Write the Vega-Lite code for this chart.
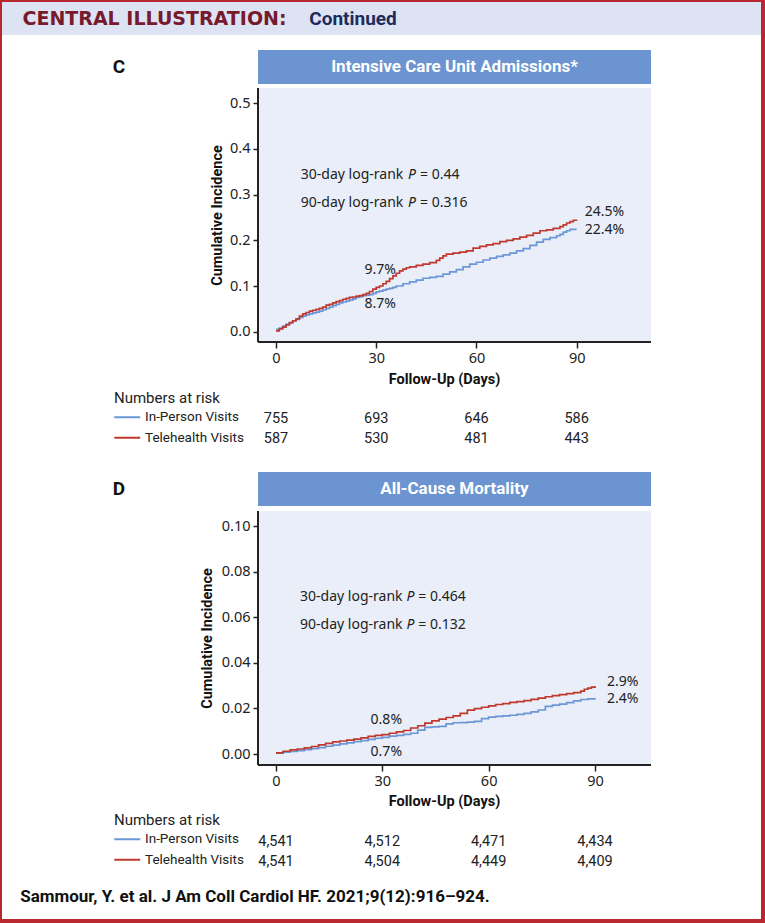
{
  "$schema": "https://vega.github.io/schema/vega-lite/v6.json",
  "background": "#b8282e",
  "padding": {"left": 2, "top": 2, "right": 4, "bottom": 4},
  "spacing": 0,
  "resolve": {"legend": {"color": "independent"}},
  "datasets": {
    "curvesC": [
      {"group": "In-Person Visits", "day": 0, "inc": 0.005}, {"group": "In-Person Visits", "day": 1, "inc": 0.008}, {"group": "In-Person Visits", "day": 2, "inc": 0.012}, {"group": "In-Person Visits", "day": 3, "inc": 0.016}, {"group": "In-Person Visits", "day": 4, "inc": 0.019}, {"group": "In-Person Visits", "day": 5, "inc": 0.023}, {"group": "In-Person Visits", "day": 6, "inc": 0.027}, {"group": "In-Person Visits", "day": 7, "inc": 0.031}, {"group": "In-Person Visits", "day": 8, "inc": 0.034}, {"group": "In-Person Visits", "day": 9, "inc": 0.037}, {"group": "In-Person Visits", "day": 10, "inc": 0.039}, {"group": "In-Person Visits", "day": 11, "inc": 0.041}, {"group": "In-Person Visits", "day": 12, "inc": 0.043}, {"group": "In-Person Visits", "day": 13, "inc": 0.045}, {"group": "In-Person Visits", "day": 14, "inc": 0.048}, {"group": "In-Person Visits", "day": 15, "inc": 0.051}, {"group": "In-Person Visits", "day": 16, "inc": 0.054}, {"group": "In-Person Visits", "day": 17, "inc": 0.057}, {"group": "In-Person Visits", "day": 18, "inc": 0.06}, {"group": "In-Person Visits", "day": 19, "inc": 0.063}, {"group": "In-Person Visits", "day": 20, "inc": 0.065}, {"group": "In-Person Visits", "day": 21, "inc": 0.067}, {"group": "In-Person Visits", "day": 22, "inc": 0.069}, {"group": "In-Person Visits", "day": 23, "inc": 0.072}, {"group": "In-Person Visits", "day": 24, "inc": 0.075}, {"group": "In-Person Visits", "day": 25, "inc": 0.077}, {"group": "In-Person Visits", "day": 26, "inc": 0.079}, {"group": "In-Person Visits", "day": 27, "inc": 0.08}, {"group": "In-Person Visits", "day": 28, "inc": 0.081}, {"group": "In-Person Visits", "day": 29, "inc": 0.084}, {"group": "In-Person Visits", "day": 30, "inc": 0.087}, {"group": "In-Person Visits", "day": 31, "inc": 0.089}, {"group": "In-Person Visits", "day": 32, "inc": 0.091}, {"group": "In-Person Visits", "day": 33, "inc": 0.093}, {"group": "In-Person Visits", "day": 34, "inc": 0.095}, {"group": "In-Person Visits", "day": 35, "inc": 0.097}, {"group": "In-Person Visits", "day": 36, "inc": 0.1}, {"group": "In-Person Visits", "day": 38, "inc": 0.105}, {"group": "In-Person Visits", "day": 40, "inc": 0.109}, {"group": "In-Person Visits", "day": 42, "inc": 0.113}, {"group": "In-Person Visits", "day": 44, "inc": 0.117}, {"group": "In-Person Visits", "day": 46, "inc": 0.119}, {"group": "In-Person Visits", "day": 48, "inc": 0.121}, {"group": "In-Person Visits", "day": 50, "inc": 0.126}, {"group": "In-Person Visits", "day": 52, "inc": 0.131}, {"group": "In-Person Visits", "day": 54, "inc": 0.136}, {"group": "In-Person Visits", "day": 56, "inc": 0.142}, {"group": "In-Person Visits", "day": 58, "inc": 0.148}, {"group": "In-Person Visits", "day": 60, "inc": 0.152}, {"group": "In-Person Visits", "day": 62, "inc": 0.157}, {"group": "In-Person Visits", "day": 64, "inc": 0.161}, {"group": "In-Person Visits", "day": 66, "inc": 0.165}, {"group": "In-Person Visits", "day": 68, "inc": 0.168}, {"group": "In-Person Visits", "day": 70, "inc": 0.172}, {"group": "In-Person Visits", "day": 72, "inc": 0.177}, {"group": "In-Person Visits", "day": 74, "inc": 0.182}, {"group": "In-Person Visits", "day": 76, "inc": 0.189}, {"group": "In-Person Visits", "day": 78, "inc": 0.196}, {"group": "In-Person Visits", "day": 80, "inc": 0.202}, {"group": "In-Person Visits", "day": 82, "inc": 0.206}, {"group": "In-Person Visits", "day": 84, "inc": 0.21}, {"group": "In-Person Visits", "day": 85, "inc": 0.213}, {"group": "In-Person Visits", "day": 86, "inc": 0.218}, {"group": "In-Person Visits", "day": 87, "inc": 0.221}, {"group": "In-Person Visits", "day": 88, "inc": 0.224}, {"group": "In-Person Visits", "day": 90, "inc": 0.224},
      {"group": "Telehealth Visits", "day": 0, "inc": 0.002}, {"group": "Telehealth Visits", "day": 1, "inc": 0.006}, {"group": "Telehealth Visits", "day": 2, "inc": 0.01}, {"group": "Telehealth Visits", "day": 3, "inc": 0.015}, {"group": "Telehealth Visits", "day": 4, "inc": 0.02}, {"group": "Telehealth Visits", "day": 5, "inc": 0.024}, {"group": "Telehealth Visits", "day": 6, "inc": 0.028}, {"group": "Telehealth Visits", "day": 7, "inc": 0.034}, {"group": "Telehealth Visits", "day": 8, "inc": 0.039}, {"group": "Telehealth Visits", "day": 9, "inc": 0.042}, {"group": "Telehealth Visits", "day": 10, "inc": 0.045}, {"group": "Telehealth Visits", "day": 11, "inc": 0.047}, {"group": "Telehealth Visits", "day": 12, "inc": 0.049}, {"group": "Telehealth Visits", "day": 13, "inc": 0.051}, {"group": "Telehealth Visits", "day": 14, "inc": 0.054}, {"group": "Telehealth Visits", "day": 15, "inc": 0.058}, {"group": "Telehealth Visits", "day": 16, "inc": 0.06}, {"group": "Telehealth Visits", "day": 17, "inc": 0.063}, {"group": "Telehealth Visits", "day": 18, "inc": 0.066}, {"group": "Telehealth Visits", "day": 19, "inc": 0.068}, {"group": "Telehealth Visits", "day": 20, "inc": 0.071}, {"group": "Telehealth Visits", "day": 21, "inc": 0.073}, {"group": "Telehealth Visits", "day": 22, "inc": 0.075}, {"group": "Telehealth Visits", "day": 23, "inc": 0.076}, {"group": "Telehealth Visits", "day": 24, "inc": 0.078}, {"group": "Telehealth Visits", "day": 25, "inc": 0.079}, {"group": "Telehealth Visits", "day": 26, "inc": 0.081}, {"group": "Telehealth Visits", "day": 27, "inc": 0.084}, {"group": "Telehealth Visits", "day": 28, "inc": 0.088}, {"group": "Telehealth Visits", "day": 29, "inc": 0.093}, {"group": "Telehealth Visits", "day": 30, "inc": 0.097}, {"group": "Telehealth Visits", "day": 31, "inc": 0.1}, {"group": "Telehealth Visits", "day": 32, "inc": 0.105}, {"group": "Telehealth Visits", "day": 33, "inc": 0.11}, {"group": "Telehealth Visits", "day": 34, "inc": 0.116}, {"group": "Telehealth Visits", "day": 35, "inc": 0.122}, {"group": "Telehealth Visits", "day": 36, "inc": 0.128}, {"group": "Telehealth Visits", "day": 37, "inc": 0.133}, {"group": "Telehealth Visits", "day": 38, "inc": 0.137}, {"group": "Telehealth Visits", "day": 39, "inc": 0.14}, {"group": "Telehealth Visits", "day": 40, "inc": 0.142}, {"group": "Telehealth Visits", "day": 42, "inc": 0.145}, {"group": "Telehealth Visits", "day": 44, "inc": 0.148}, {"group": "Telehealth Visits", "day": 46, "inc": 0.151}, {"group": "Telehealth Visits", "day": 48, "inc": 0.156}, {"group": "Telehealth Visits", "day": 49, "inc": 0.161}, {"group": "Telehealth Visits", "day": 50, "inc": 0.166}, {"group": "Telehealth Visits", "day": 51, "inc": 0.17}, {"group": "Telehealth Visits", "day": 53, "inc": 0.172}, {"group": "Telehealth Visits", "day": 55, "inc": 0.174}, {"group": "Telehealth Visits", "day": 57, "inc": 0.177}, {"group": "Telehealth Visits", "day": 59, "inc": 0.183}, {"group": "Telehealth Visits", "day": 61, "inc": 0.187}, {"group": "Telehealth Visits", "day": 63, "inc": 0.19}, {"group": "Telehealth Visits", "day": 65, "inc": 0.193}, {"group": "Telehealth Visits", "day": 67, "inc": 0.197}, {"group": "Telehealth Visits", "day": 69, "inc": 0.2}, {"group": "Telehealth Visits", "day": 71, "inc": 0.203}, {"group": "Telehealth Visits", "day": 73, "inc": 0.207}, {"group": "Telehealth Visits", "day": 75, "inc": 0.211}, {"group": "Telehealth Visits", "day": 77, "inc": 0.216}, {"group": "Telehealth Visits", "day": 79, "inc": 0.221}, {"group": "Telehealth Visits", "day": 81, "inc": 0.223}, {"group": "Telehealth Visits", "day": 83, "inc": 0.226}, {"group": "Telehealth Visits", "day": 85, "inc": 0.23}, {"group": "Telehealth Visits", "day": 86, "inc": 0.234}, {"group": "Telehealth Visits", "day": 87, "inc": 0.238}, {"group": "Telehealth Visits", "day": 88, "inc": 0.241}, {"group": "Telehealth Visits", "day": 89, "inc": 0.244}, {"group": "Telehealth Visits", "day": 90, "inc": 0.245}
    ],
    "curvesD": [
      {"group": "In-Person Visits", "day": 0, "inc": 0.0004}, {"group": "In-Person Visits", "day": 2, "inc": 0.0008}, {"group": "In-Person Visits", "day": 4, "inc": 0.0011}, {"group": "In-Person Visits", "day": 6, "inc": 0.0015}, {"group": "In-Person Visits", "day": 8, "inc": 0.0019}, {"group": "In-Person Visits", "day": 10, "inc": 0.0024}, {"group": "In-Person Visits", "day": 12, "inc": 0.0028}, {"group": "In-Person Visits", "day": 14, "inc": 0.0034}, {"group": "In-Person Visits", "day": 16, "inc": 0.0039}, {"group": "In-Person Visits", "day": 18, "inc": 0.0044}, {"group": "In-Person Visits", "day": 20, "inc": 0.0049}, {"group": "In-Person Visits", "day": 22, "inc": 0.0054}, {"group": "In-Person Visits", "day": 24, "inc": 0.0059}, {"group": "In-Person Visits", "day": 26, "inc": 0.0064}, {"group": "In-Person Visits", "day": 28, "inc": 0.0069}, {"group": "In-Person Visits", "day": 30, "inc": 0.0073}, {"group": "In-Person Visits", "day": 32, "inc": 0.0078}, {"group": "In-Person Visits", "day": 34, "inc": 0.0082}, {"group": "In-Person Visits", "day": 36, "inc": 0.0086}, {"group": "In-Person Visits", "day": 38, "inc": 0.0091}, {"group": "In-Person Visits", "day": 40, "inc": 0.0105}, {"group": "In-Person Visits", "day": 42, "inc": 0.0117}, {"group": "In-Person Visits", "day": 44, "inc": 0.0119}, {"group": "In-Person Visits", "day": 46, "inc": 0.0121}, {"group": "In-Person Visits", "day": 48, "inc": 0.0132}, {"group": "In-Person Visits", "day": 50, "inc": 0.0137}, {"group": "In-Person Visits", "day": 52, "inc": 0.0138}, {"group": "In-Person Visits", "day": 54, "inc": 0.014}, {"group": "In-Person Visits", "day": 56, "inc": 0.0143}, {"group": "In-Person Visits", "day": 58, "inc": 0.0155}, {"group": "In-Person Visits", "day": 60, "inc": 0.0162}, {"group": "In-Person Visits", "day": 62, "inc": 0.0165}, {"group": "In-Person Visits", "day": 64, "inc": 0.0167}, {"group": "In-Person Visits", "day": 66, "inc": 0.017}, {"group": "In-Person Visits", "day": 68, "inc": 0.0174}, {"group": "In-Person Visits", "day": 70, "inc": 0.0178}, {"group": "In-Person Visits", "day": 72, "inc": 0.0185}, {"group": "In-Person Visits", "day": 74, "inc": 0.0193}, {"group": "In-Person Visits", "day": 76, "inc": 0.0209}, {"group": "In-Person Visits", "day": 78, "inc": 0.0214}, {"group": "In-Person Visits", "day": 80, "inc": 0.0219}, {"group": "In-Person Visits", "day": 82, "inc": 0.0225}, {"group": "In-Person Visits", "day": 84, "inc": 0.0233}, {"group": "In-Person Visits", "day": 86, "inc": 0.0239}, {"group": "In-Person Visits", "day": 88, "inc": 0.0242}, {"group": "In-Person Visits", "day": 90, "inc": 0.0244},
      {"group": "Telehealth Visits", "day": 0, "inc": 0.0005}, {"group": "Telehealth Visits", "day": 2, "inc": 0.0012}, {"group": "Telehealth Visits", "day": 4, "inc": 0.0018}, {"group": "Telehealth Visits", "day": 6, "inc": 0.0022}, {"group": "Telehealth Visits", "day": 8, "inc": 0.0027}, {"group": "Telehealth Visits", "day": 10, "inc": 0.0033}, {"group": "Telehealth Visits", "day": 12, "inc": 0.004}, {"group": "Telehealth Visits", "day": 14, "inc": 0.0047}, {"group": "Telehealth Visits", "day": 16, "inc": 0.0053}, {"group": "Telehealth Visits", "day": 18, "inc": 0.0057}, {"group": "Telehealth Visits", "day": 20, "inc": 0.0061}, {"group": "Telehealth Visits", "day": 22, "inc": 0.0065}, {"group": "Telehealth Visits", "day": 24, "inc": 0.0071}, {"group": "Telehealth Visits", "day": 26, "inc": 0.0077}, {"group": "Telehealth Visits", "day": 28, "inc": 0.0082}, {"group": "Telehealth Visits", "day": 30, "inc": 0.0085}, {"group": "Telehealth Visits", "day": 32, "inc": 0.0091}, {"group": "Telehealth Visits", "day": 34, "inc": 0.0097}, {"group": "Telehealth Visits", "day": 36, "inc": 0.0103}, {"group": "Telehealth Visits", "day": 38, "inc": 0.0114}, {"group": "Telehealth Visits", "day": 40, "inc": 0.0124}, {"group": "Telehealth Visits", "day": 42, "inc": 0.0135}, {"group": "Telehealth Visits", "day": 44, "inc": 0.0145}, {"group": "Telehealth Visits", "day": 46, "inc": 0.0153}, {"group": "Telehealth Visits", "day": 48, "inc": 0.016}, {"group": "Telehealth Visits", "day": 50, "inc": 0.0167}, {"group": "Telehealth Visits", "day": 52, "inc": 0.0178}, {"group": "Telehealth Visits", "day": 54, "inc": 0.0192}, {"group": "Telehealth Visits", "day": 56, "inc": 0.0199}, {"group": "Telehealth Visits", "day": 58, "inc": 0.0205}, {"group": "Telehealth Visits", "day": 60, "inc": 0.0211}, {"group": "Telehealth Visits", "day": 62, "inc": 0.0217}, {"group": "Telehealth Visits", "day": 64, "inc": 0.0221}, {"group": "Telehealth Visits", "day": 66, "inc": 0.0226}, {"group": "Telehealth Visits", "day": 68, "inc": 0.023}, {"group": "Telehealth Visits", "day": 70, "inc": 0.0234}, {"group": "Telehealth Visits", "day": 72, "inc": 0.024}, {"group": "Telehealth Visits", "day": 74, "inc": 0.0245}, {"group": "Telehealth Visits", "day": 76, "inc": 0.0251}, {"group": "Telehealth Visits", "day": 78, "inc": 0.0256}, {"group": "Telehealth Visits", "day": 80, "inc": 0.026}, {"group": "Telehealth Visits", "day": 82, "inc": 0.0265}, {"group": "Telehealth Visits", "day": 84, "inc": 0.0269}, {"group": "Telehealth Visits", "day": 86, "inc": 0.0276}, {"group": "Telehealth Visits", "day": 87, "inc": 0.0284}, {"group": "Telehealth Visits", "day": 88, "inc": 0.0289}, {"group": "Telehealth Visits", "day": 89, "inc": 0.0293}, {"group": "Telehealth Visits", "day": 90, "inc": 0.0298}
    ],
    "riskC": [
      {"group": "In-Person Visits", "day": 0, "n": 755}, {"group": "In-Person Visits", "day": 30, "n": 693}, {"group": "In-Person Visits", "day": 60, "n": 646}, {"group": "In-Person Visits", "day": 90, "n": 586},
      {"group": "Telehealth Visits", "day": 0, "n": 587}, {"group": "Telehealth Visits", "day": 30, "n": 530}, {"group": "Telehealth Visits", "day": 60, "n": 481}, {"group": "Telehealth Visits", "day": 90, "n": 443}
    ],
    "riskD": [
      {"group": "In-Person Visits", "day": 0, "n": 4541}, {"group": "In-Person Visits", "day": 30, "n": 4512}, {"group": "In-Person Visits", "day": 60, "n": 4471}, {"group": "In-Person Visits", "day": 90, "n": 4434},
      {"group": "Telehealth Visits", "day": 0, "n": 4541}, {"group": "Telehealth Visits", "day": 30, "n": 4504}, {"group": "Telehealth Visits", "day": 60, "n": 4449}, {"group": "Telehealth Visits", "day": 90, "n": 4409}
    ]
  },
  "vconcat": [
    {
      "hconcat": [
        {"width": 305, "height": 33, "view": {"fill": "#dde3f3", "stroke": null}, "data": {"values": [{"t": "CENTRAL ILLUSTRATION:"}]}, "mark": {"type": "text", "font": "DejaVu Sans", "fontSize": 19, "fontWeight": "bold", "color": "#761a2c"}, "encoding": {"text": {"field": "t"}}},
        {"width": 92, "height": 33, "view": {"fill": "#dde3f3", "stroke": null}, "data": {"values": [{"t": "Continued"}]}, "mark": {"type": "text", "font": "Roboto", "fontSize": 19, "fontWeight": "bold", "color": "#1d2a5c"}, "encoding": {"text": {"field": "t"}}},
        {"width": 362, "height": 33, "view": {"fill": "#dde3f3", "stroke": null}, "data": {"values": []}, "mark": "text"}
      ],
      "spacing": 0
    },
    {"width": 759, "height": 15, "view": {"fill": "#ffffff", "stroke": null}, "data": {"values": []}, "mark": "text"},
    {
      "hconcat": [
        {"width": 234, "height": 34, "view": {"fill": "#ffffff", "stroke": null}, "data": {"values": [{"t": "C"}]}, "mark": {"type": "text", "font": "Liberation Sans Narrow, Roboto, sans-serif", "fontSize": 19, "fontWeight": "bold", "color": "#111111"}, "encoding": {"text": {"field": "t"}}},
        {"width": 22, "height": 34, "view": {"fill": "#ffffff", "stroke": null}, "data": {"values": []}, "mark": "text"},
        {"width": 393, "height": 34, "view": {"fill": "#6b94d1", "stroke": null}, "data": {"values": [{"t": "Intensive Care Unit Admissions*"}]}, "mark": {"type": "text", "font": "Liberation Sans Narrow, Roboto, sans-serif", "fontSize": 17, "fontWeight": "bold", "color": "#ffffff"}, "encoding": {"text": {"field": "t"}}},
        {"width": 110, "height": 34, "view": {"fill": "#ffffff", "stroke": null}, "data": {"values": []}, "mark": "text"}
      ],
      "spacing": 0
    },
    {
      "width": 759, "height": 306,
      "view": {"fill": "#ffffff", "stroke": null},
      "layer": [
        {"data": {"values": [{}]}, "mark": {"type": "rect", "color": "#e9eef8"},
         "encoding": {"x": {"datum": -5.39}, "x2": {"datum": 112.24}, "y": {"datum": -0.0226}, "y2": {"datum": 0.5335}}},
        {"data": {"name": "curvesC"}, "mark": {"type": "line", "interpolate": "step-after", "strokeWidth": 1.7},
         "encoding": {
           "x": {"field": "day", "type": "quantitative", "scale": {"domain": [-82.01, 145.17], "nice": false, "zero": false},
                 "axis": {"values": [0, 30, 60, 90], "title": "Follow-Up (Days)", "offset": -48, "tickSize": 6, "labelPadding": 3, "titleX": 442, "titleY": 37, "titleBaseline": "middle", "labelFlush": false, "zindex": 1}},
           "y": {"field": "inc", "type": "quantitative", "scale": {"domain": [-0.12763, 0.54225], "nice": false, "zero": false},
                 "axis": {"values": [0, 0.1, 0.2, 0.3, 0.4, 0.5], "format": ".1f", "title": "Cumulative Incidence", "offset": -256, "tickSize": 5, "labelPadding": 3, "titleX": -41, "titleY": 131, "titleBaseline": "middle", "zindex": 1}},
           "color": {"field": "group", "type": "nominal", "scale": {"domain": ["In-Person Visits", "Telehealth Visits"], "range": ["#6b97d6", "#c0392f"]}, "legend": null}
         }},
        {"data": {"values": [{}]}, "mark": {"type": "rule", "color": "#222222", "strokeWidth": 2},
         "encoding": {"x": {"datum": -5.39}, "y": {"datum": -0.0226}, "y2": {"datum": 0.5335}}},
        {"data": {"values": [{}]}, "mark": {"type": "rule", "color": "#222222", "strokeWidth": 2},
         "encoding": {"x": {"datum": -5.39}, "x2": {"datum": 112.24}, "y": {"datum": -0.0226}}},
        {"data": {"values": [{"day": 30, "inc": 0.097, "label": "9.7%"}]}, "mark": {"type": "text", "dx": 4, "dy": -17},
         "encoding": {"x": {"field": "day", "type": "quantitative"}, "y": {"field": "inc", "type": "quantitative"}, "text": {"field": "label"}}},
        {"data": {"values": [{"day": 30, "inc": 0.087, "label": "8.7%"}]}, "mark": {"type": "text", "dx": 4, "dy": 12},
         "encoding": {"x": {"field": "day", "type": "quantitative"}, "y": {"field": "inc", "type": "quantitative"}, "text": {"field": "label"}}},
        {"data": {"values": [{"day": 90, "inc": 0.245, "label": "24.5%"}]}, "mark": {"type": "text", "align": "left", "dx": 8, "dy": -8},
         "encoding": {"x": {"field": "day", "type": "quantitative"}, "y": {"field": "inc", "type": "quantitative"}, "text": {"field": "label"}}},
        {"data": {"values": [{"day": 90, "inc": 0.224, "label": "22.4%"}]}, "mark": {"type": "text", "align": "left", "dx": 8, "dy": 1},
         "encoding": {"x": {"field": "day", "type": "quantitative"}, "y": {"field": "inc", "type": "quantitative"}, "text": {"field": "label"}}},
        {"data": {"values": [{"t": "30-day log-rank"}]}, "mark": {"type": "text", "align": "right"},
         "encoding": {"x": {"datum": 38.1}, "y": {"datum": 0.343}, "text": {"field": "t"}}},
        {"data": {"values": [{"t": "P"}]}, "mark": {"type": "text", "align": "left", "fontStyle": "italic"},
         "encoding": {"x": {"datum": 39.5}, "y": {"datum": 0.343}, "text": {"field": "t"}}},
        {"data": {"values": [{"t": "= 0.44"}]}, "mark": {"type": "text", "align": "left"},
         "encoding": {"x": {"datum": 43.1}, "y": {"datum": 0.343}, "text": {"field": "t"}}},
        {"data": {"values": [{"t": "90-day log-rank"}]}, "mark": {"type": "text", "align": "right"},
         "encoding": {"x": {"datum": 38.1}, "y": {"datum": 0.281}, "text": {"field": "t"}}},
        {"data": {"values": [{"t": "P"}]}, "mark": {"type": "text", "align": "left", "fontStyle": "italic"},
         "encoding": {"x": {"datum": 39.5}, "y": {"datum": 0.281}, "text": {"field": "t"}}},
        {"data": {"values": [{"t": "= 0.316"}]}, "mark": {"type": "text", "align": "left"},
         "encoding": {"x": {"datum": 43.1}, "y": {"datum": 0.281}, "text": {"field": "t"}}}
      ]
    },
    {
      "width": 759, "height": 82,
      "view": {"fill": "#ffffff", "stroke": null},
      "data": {"name": "riskC"},
      "layer": [
        {"mark": {"type": "text", "font": "Roboto", "fontSize": 14.5, "color": "#222222", "baseline": "middle", "dy": 1},
         "encoding": {
           "x": {"field": "day", "type": "quantitative", "scale": {"domain": [-82.01, 145.17], "nice": false, "zero": false}, "axis": null},
           "y": {"field": "group", "type": "nominal", "scale": {"type": "point", "domain": ["In-Person Visits", "Telehealth Visits"], "range": [28, 48], "padding": 0}, "axis": null},
           "text": {"field": "n", "type": "quantitative", "format": ","}
         }},
        {"mark": {"type": "rule", "strokeWidth": 2},
         "encoding": {
           "x": {"datum": 0, "axis": null}, "x2": {"datum": 0},
           "y": {"field": "group", "type": "nominal", "axis": null},
           "color": {"field": "group", "type": "nominal", "scale": {"domain": ["In-Person Visits", "Telehealth Visits"], "range": ["#6b97d6", "#c0392f"]},
                     "legend": {"orient": "none", "legendX": 112, "legendY": 1, "title": "Numbers at risk", "symbolType": "M-1.5,0H4.5", "symbolSize": 75, "symbolStrokeWidth": 2, "labelOffset": 17.5, "rowPadding": 5.5, "titlePadding": 4.5}}
         }}
      ]
    },
    {
      "hconcat": [
        {"width": 234, "height": 34, "view": {"fill": "#ffffff", "stroke": null}, "data": {"values": [{"t": "D"}]}, "mark": {"type": "text", "font": "Liberation Sans Narrow, Roboto, sans-serif", "fontSize": 19, "fontWeight": "bold", "color": "#111111"}, "encoding": {"text": {"field": "t"}}},
        {"width": 22, "height": 34, "view": {"fill": "#ffffff", "stroke": null}, "data": {"values": []}, "mark": "text"},
        {"width": 393, "height": 34, "view": {"fill": "#6b94d1", "stroke": null}, "data": {"values": [{"t": "All-Cause Mortality"}]}, "mark": {"type": "text", "font": "Liberation Sans Narrow, Roboto, sans-serif", "fontSize": 17, "fontWeight": "bold", "color": "#ffffff"}, "encoding": {"text": {"field": "t"}}},
        {"width": 110, "height": 34, "view": {"fill": "#ffffff", "stroke": null}, "data": {"values": []}, "mark": "text"}
      ],
      "spacing": 0
    },
    {
      "width": 759, "height": 305,
      "view": {"fill": "#ffffff", "stroke": null},
      "layer": [
        {"data": {"values": [{}]}, "mark": {"type": "rect", "color": "#e9eef8"},
         "encoding": {"x": {"datum": -5.08}, "x2": {"datum": 105.81}, "y": {"datum": -0.00483}, "y2": {"datum": 0.10658}}},
        {"data": {"name": "curvesD"}, "mark": {"type": "line", "interpolate": "step-after", "strokeWidth": 1.7},
         "encoding": {
           "x": {"field": "day", "type": "quantitative", "scale": {"domain": [-77.31, 136.85], "nice": false, "zero": false},
                 "axis": {"values": [0, 30, 60, 90], "title": "Follow-Up (Days)", "offset": -46, "tickSize": 6, "labelPadding": 3, "titleX": 442, "titleY": 36, "titleBaseline": "middle", "labelFlush": false, "zindex": 1}},
           "y": {"field": "inc", "type": "quantitative", "scale": {"domain": [-0.025, 0.108772], "nice": false, "zero": false},
                 "axis": {"values": [0, 0.02, 0.04, 0.06, 0.08, 0.1], "format": ".2f", "title": "Cumulative Incidence", "offset": -256, "tickSize": 5, "labelPadding": 3, "titleX": -51, "titleY": 132, "titleBaseline": "middle", "zindex": 1}},
           "color": {"field": "group", "type": "nominal", "scale": {"domain": ["In-Person Visits", "Telehealth Visits"], "range": ["#6b97d6", "#c0392f"]}, "legend": null}
         }},
        {"data": {"values": [{}]}, "mark": {"type": "rule", "color": "#222222", "strokeWidth": 2},
         "encoding": {"x": {"datum": -5.08}, "y": {"datum": -0.00483}, "y2": {"datum": 0.10658}}},
        {"data": {"values": [{}]}, "mark": {"type": "rule", "color": "#222222", "strokeWidth": 2},
         "encoding": {"x": {"datum": -5.08}, "x2": {"datum": 105.81}, "y": {"datum": -0.00483}}},
        {"data": {"values": [{"day": 30, "inc": 0.008, "label": "0.8%"}]}, "mark": {"type": "text", "dx": 4, "dy": -16},
         "encoding": {"x": {"field": "day", "type": "quantitative"}, "y": {"field": "inc", "type": "quantitative"}, "text": {"field": "label"}}},
        {"data": {"values": [{"day": 30, "inc": 0.007, "label": "0.7%"}]}, "mark": {"type": "text", "dx": 4, "dy": 14},
         "encoding": {"x": {"field": "day", "type": "quantitative"}, "y": {"field": "inc", "type": "quantitative"}, "text": {"field": "label"}}},
        {"data": {"values": [{"day": 90, "inc": 0.029, "label": "2.9%"}]}, "mark": {"type": "text", "align": "left", "dx": 12, "dy": -6},
         "encoding": {"x": {"field": "day", "type": "quantitative"}, "y": {"field": "inc", "type": "quantitative"}, "text": {"field": "label"}}},
        {"data": {"values": [{"day": 90, "inc": 0.024, "label": "2.4%"}]}, "mark": {"type": "text", "align": "left", "dx": 12, "dy": 0},
         "encoding": {"x": {"field": "day", "type": "quantitative"}, "y": {"field": "inc", "type": "quantitative"}, "text": {"field": "label"}}},
        {"data": {"values": [{"t": "30-day log-rank"}]}, "mark": {"type": "text", "align": "right"},
         "encoding": {"x": {"datum": 35.7}, "y": {"datum": 0.069}, "text": {"field": "t"}}},
        {"data": {"values": [{"t": "P"}]}, "mark": {"type": "text", "align": "left", "fontStyle": "italic"},
         "encoding": {"x": {"datum": 36.85}, "y": {"datum": 0.069}, "text": {"field": "t"}}},
        {"data": {"values": [{"t": "= 0.464"}]}, "mark": {"type": "text", "align": "left"},
         "encoding": {"x": {"datum": 40.15}, "y": {"datum": 0.069}, "text": {"field": "t"}}},
        {"data": {"values": [{"t": "90-day log-rank"}]}, "mark": {"type": "text", "align": "right"},
         "encoding": {"x": {"datum": 35.7}, "y": {"datum": 0.0566}, "text": {"field": "t"}}},
        {"data": {"values": [{"t": "P"}]}, "mark": {"type": "text", "align": "left", "fontStyle": "italic"},
         "encoding": {"x": {"datum": 36.85}, "y": {"datum": 0.0566}, "text": {"field": "t"}}},
        {"data": {"values": [{"t": "= 0.132"}]}, "mark": {"type": "text", "align": "left"},
         "encoding": {"x": {"datum": 40.15}, "y": {"datum": 0.0566}, "text": {"field": "t"}}}
      ]
    },
    {
      "width": 759, "height": 64,
      "view": {"fill": "#ffffff", "stroke": null},
      "data": {"name": "riskD"},
      "layer": [
        {"mark": {"type": "text", "font": "Roboto", "fontSize": 14.5, "color": "#222222", "baseline": "middle", "dy": 1},
         "encoding": {
           "x": {"field": "day", "type": "quantitative", "scale": {"domain": [-77.31, 136.85], "nice": false, "zero": false}, "axis": null},
           "y": {"field": "group", "type": "nominal", "scale": {"type": "point", "domain": ["In-Person Visits", "Telehealth Visits"], "range": [30, 50], "padding": 0}, "axis": null},
           "text": {"field": "n", "type": "quantitative", "format": ","}
         }},
        {"mark": {"type": "rule", "strokeWidth": 2},
         "encoding": {
           "x": {"datum": 0, "axis": null}, "x2": {"datum": 0},
           "y": {"field": "group", "type": "nominal", "axis": null},
           "color": {"field": "group", "type": "nominal", "scale": {"domain": ["In-Person Visits", "Telehealth Visits"], "range": ["#6b97d6", "#c0392f"]},
                     "legend": {"orient": "none", "legendX": 112, "legendY": 2, "title": "Numbers at risk", "symbolType": "M-1.5,0H4.5", "symbolSize": 75, "symbolStrokeWidth": 2, "labelOffset": 17.5, "rowPadding": 5.5, "titlePadding": 4.5}}
         }}
      ]
    },
    {
      "hconcat": [
        {"width": 506, "height": 44, "view": {"fill": "#ffffff", "stroke": null}, "data": {"values": [{"t": "Sammour, Y. et al. J Am Coll Cardiol HF. 2021;9(12):916–924."}]}, "mark": {"type": "text", "font": "Liberation Sans Narrow, Roboto, sans-serif", "fontSize": 17, "fontWeight": "bold", "color": "#111111"}, "encoding": {"text": {"field": "t"}}},
        {"width": 253, "height": 44, "view": {"fill": "#ffffff", "stroke": null}, "data": {"values": []}, "mark": "text"}
      ],
      "spacing": 0
    }
  ],
  "config": {
    "view": {"stroke": null, "fill": "#ffffff"},
    "concat": {"spacing": 0},
    "axis": {"labelFont": "Noto Sans", "labelFontSize": 14.5, "labelColor": "#222222", "tickColor": "#222222", "tickWidth": 1.5, "titleFont": "Liberation Sans Narrow, Roboto, sans-serif", "titleFontSize": 14.5, "titleFontWeight": "bold", "titleColor": "#111111", "grid": false, "domain": false},
    "legend": {"titleFont": "Liberation Sans Narrow, Roboto, sans-serif", "titleFontSize": 15, "titleFontWeight": "normal", "titleColor": "#222222", "labelFont": "Liberation Sans Narrow, Roboto, sans-serif", "labelFontSize": 13.5, "labelColor": "#222222", "padding": 0},
    "text": {"font": "Noto Sans", "fontSize": 14, "color": "#222222"}
  }
}
